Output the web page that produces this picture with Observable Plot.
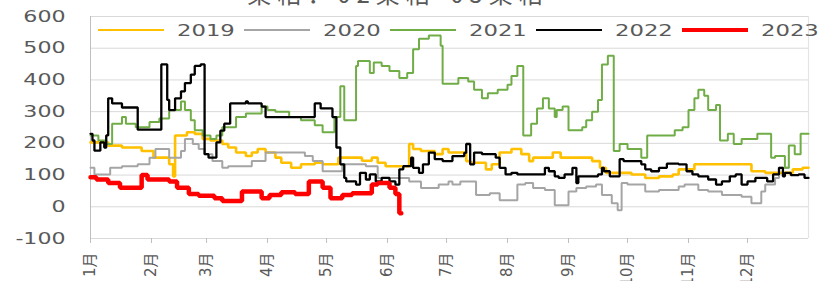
<!DOCTYPE html>
<html>
<head>
<meta charset="utf-8">
<script src="https://cdn.jsdelivr.net/npm/d3@7"></script>
<script src="https://cdn.jsdelivr.net/npm/@observablehq/plot@0.6"></script>
<style>
  html, body { margin: 0; padding: 0; background: #fff; }
  #wrap { position: relative; width: 819px; height: 281px; overflow: hidden; font-family: "DejaVu Sans", "Noto Sans CJK SC", sans-serif; }
  #title { position: absolute; top: -19px; left: 0; width: 796px; text-align: center; font-size: 24px; line-height: 24px; color: #595959; letter-spacing: 6px; font-family: "Noto Sans CJK SC", sans-serif; }
  #legend { position: absolute; top: 21px; left: 98px; display: flex; align-items: center; height: 18px; }
  .item { display: flex; align-items: center; width: 146px; }
  .swatch { width: 66px; margin-right: 13px; }
  .lab { display: inline-block; font-size: 16px; color: #595959; transform: scaleX(1.42); transform-origin: left center; }
</style>
</head>
<body>
<div id="wrap">
  <div id="title">菜粕：02菜粕-05菜粕</div>
  <div id="legend"></div>
</div>
<script>
const years = ["2019", "2020", "2021", "2022", "2023"];

// day of year (0 = 1月1日) and value at which each step starts
const days2019 = [0,9,16,26,32,40,42,43,49,53,57,61,67,70,74,79,82,85,89,94,97,102,107,114,118,126,138,143,146,150,162,164,168,175,179,182,191,193,201,204,208,214,219,223,225,235,239,255,259,262,275,282,289,296,299,307,336,343,357,362,365];
const vals2019 = [203,193,187,176,155,134,96,225,235,230,214,209,198,187,171,160,171,182,171,155,139,123,134,139,134,155,145,155,139,128,198,182,176,166,182,171,144,139,118,134,171,182,166,144,155,171,155,144,123,107,102,91,96,102,118,134,112,107,118,123,123];

const days2020 = [0,2,10,16,24,30,33,40,46,48,52,55,58,62,67,70,82,89,109,113,118,128,140,146,162,168,177,182,184,188,196,203,208,217,221,225,231,236,243,247,252,257,260,265,268,270,273,282,289,299,302,309,314,321,331,336,341,343,348,350,355];
const vals2020 = [123,102,123,128,134,155,182,155,176,214,198,182,166,144,123,128,144,171,160,144,112,134,128,91,80,59,70,80,70,80,37,43,21,70,75,59,53,5,48,59,64,70,37,11,-11,75,70,48,53,64,70,53,48,37,32,11,48,70,91,123,123];

const days2021 = [0,4,8,11,16,18,23,30,35,40,46,48,51,53,57,61,64,67,74,79,87,90,94,101,107,114,118,124,127,129,135,136,142,144,148,152,157,161,164,167,172,178,179,187,192,195,199,202,207,212,214,217,220,224,227,230,233,236,237,240,243,250,252,255,258,260,263,266,269,273,280,283,297,301,304,307,309,312,314,318,320,324,327,331,339,346,348,353,355,358,361,365];
const vals2021 = [225,209,198,262,283,262,251,267,278,305,332,305,273,241,225,214,225,251,283,294,316,305,300,283,273,257,235,283,380,273,444,460,422,455,444,428,406,422,497,530,540,508,388,406,395,369,342,358,369,385,412,444,225,262,310,342,310,283,305,316,241,251,273,300,337,449,476,176,198,182,155,225,241,251,305,342,369,350,305,321,209,230,198,214,230,155,160,123,193,166,230,230];

const days2022 = [0,1,2,5,7,8,9,11,16,24,36,39,40,43,46,48,51,53,56,58,60,64,66,68,71,79,80,87,89,114,117,123,125,127,129,130,135,137,140,142,145,148,152,155,157,159,163,164,167,169,172,175,179,184,190,191,193,195,199,206,208,211,214,217,231,233,236,238,241,245,247,248,258,260,261,264,269,271,280,282,285,289,293,299,303,306,309,314,318,321,325,328,331,334,338,344,347,350,352,353,356,360,363,365];
const vals2022 = [230,209,177,203,187,225,342,326,313,243,449,337,305,342,364,390,417,444,449,166,155,203,240,262,326,332,326,316,283,326,310,283,187,134,91,80,70,107,86,102,80,91,80,70,118,128,155,123,107,134,171,150,144,160,170,198,134,171,166,155,123,102,107,102,123,112,96,91,102,123,75,96,102,123,112,96,150,144,134,118,112,123,136,134,112,102,96,86,70,80,96,102,70,80,91,80,102,123,96,107,100,102,91,91];

const days2023 = [0,3,9,15,26,29,40,44,50,55,63,67,77,87,91,97,104,111,118,122,128,133,143,146,152,155,157,158];
const vals2023 = [93,86,75,60,100,86,80,60,40,35,27,18,48,27,37,46,40,80,60,27,37,43,70,75,60,40,-20,-20];

const yTicks = [-100, 0, 100, 200, 300, 400, 500, 600];
const monthLabels = ["1月","2月","3月","4月","5月","6月","7月","8月","9月","10月","11月","12月"];

const colors = ["#FFC000", "#A5A5A5", "#70AD47", "#000000", "#FF0000"];
const widths = [2.6, 2, 2, 2.3, 4.5];

const dayList = [days2019, days2020, days2021, days2022, days2023];
const valList = [vals2019, vals2020, vals2021, vals2022, vals2023];
const toDate = d => new Date(Date.UTC(2023, 0, 1 + d));
const rows = years.flatMap((y, i) => dayList[i].map((d, j) => ({year: y, date: toDate(d), value: valList[i][j]})));
const monthTicks = monthLabels.map((m, i) => new Date(Date.UTC(2023, i, 1)));
const xDomain = [new Date(Date.UTC(2023, 0, 1)), new Date(Date.UTC(2024, 0, 1))];

const chart = Plot.plot({
  width: 819,
  height: 281,
  marginLeft: 90,
  marginRight: 11,
  marginTop: 16,
  marginBottom: 43,
  style: {fontFamily: "DejaVu Sans, Noto Sans CJK SC, sans-serif", background: "transparent"},
  x: {type: "utc", domain: xDomain, label: null},
  y: {domain: [-100, 600], label: null},
  color: {domain: years, range: colors},
  marks: [
    Plot.gridY(yTicks, {stroke: "#d9d9d9", strokeOpacity: 1, strokeWidth: 1}),
    Plot.ruleX([xDomain[1]], {stroke: "#e4e4e4", strokeWidth: 1.2}),
    Plot.ruleX([xDomain[0]], {stroke: "#bfbfbf", strokeWidth: 1}),
    Plot.axisY(yTicks, {label: null, tickSize: 0, tickPadding: 25, fontSize: 16, fill: "#595959", tickFormat: d => String(d), className: "ylab"}),
    Plot.axisX(monthTicks, {label: null, tickSize: 5, tickPadding: 9, tickRotate: -90, fontSize: 15, stroke: "#bfbfbf", fill: "#595959", tickFormat: d => monthLabels[d.getUTCMonth()]}),
    ...years.map((y, i) => Plot.line(rows.filter(r => r.year === y), {
      x: "date", y: "value", stroke: "year", strokeWidth: widths[i], curve: "step-after", strokeLinejoin: "miter"
    }))
  ]
});
document.getElementById("wrap").insertBefore(chart, document.getElementById("title"));

// widen the y tick labels like the reference's stretched glyphs
chart.querySelectorAll(".ylab text").forEach(t => {
  const w = t.getComputedTextLength();
  t.setAttribute("textLength", (w * 1.38).toFixed(1));
  t.setAttribute("lengthAdjust", "spacingAndGlyphs");
});

const legend = document.getElementById("legend");
years.forEach((y, i) => {
  const item = document.createElement("div");
  item.className = "item";
  const sw = document.createElement("span");
  sw.className = "swatch";
  sw.style.borderTop = `${i === 4 ? 4 : 2}px solid ${colors[i]}`;
  const lab = document.createElement("span");
  lab.className = "lab";
  lab.textContent = y;
  item.appendChild(sw);
  item.appendChild(lab);
  legend.appendChild(item);
});
</script>
</body>
</html>
